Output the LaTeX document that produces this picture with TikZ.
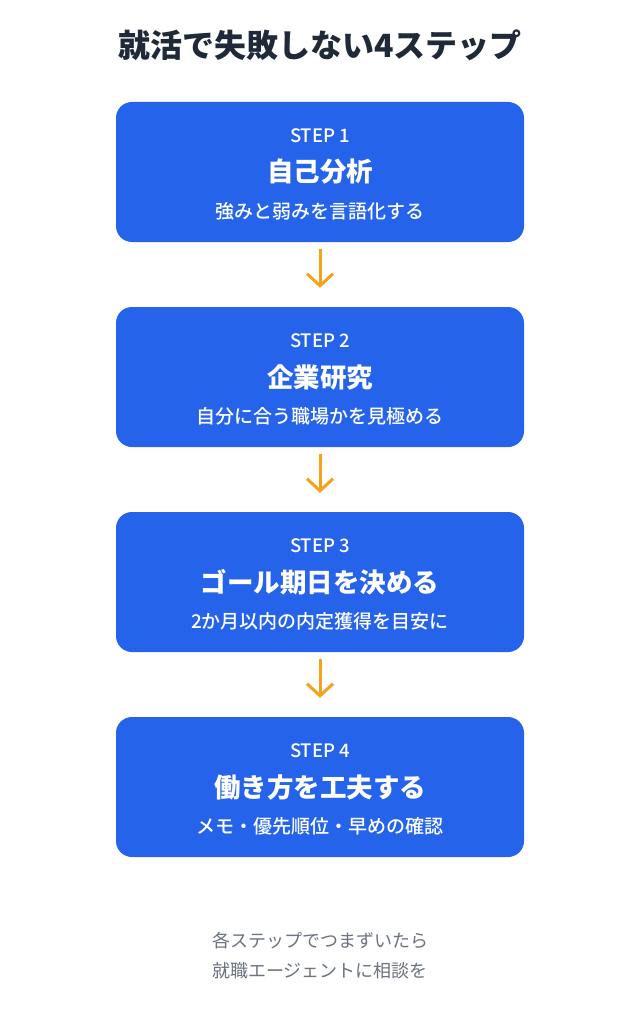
\documentclass[tikz,border=0pt]{standalone}
\usepackage{fontspec}
\setmainfont{Noto Sans CJK JP}
\newfontfamily\cjk{Noto Sans CJK JP}
\newfontfamily\cjkmed{Noto Sans CJK JP Medium}
\usetikzlibrary{arrows.meta}
\definecolor{boxblue}{RGB}{37,99,235}
\definecolor{arrorange}{RGB}{245,162,25}
\definecolor{titlegray}{RGB}{31,41,55}
\definecolor{footgray}{RGB}{107,114,128}
\tikzset{
  stepbox/.style={fill=boxblue, draw=none, rounded corners=16pt, minimum width=408pt, minimum height=140pt, inner sep=0pt},
  steplabel/.style={text=white, font=\cjkmed\fontsize{18.5}{20}\selectfont, inner sep=0pt},
  stephead/.style={text=white, font=\cjk\bfseries\fontsize{26.5}{30}\selectfont, inner sep=0pt},
  stepsub/.style={text=white, font=\cjkmed\fontsize{19}{22}\selectfont, inner sep=0pt},
  flowarrow/.style={draw=arrorange, line width=3pt, -{Straight Barb[length=12pt,width=26pt,line width=3pt]}},
  foot/.style={text=footgray, font=\cjk\fontsize{18}{22}\selectfont, inner sep=0pt}
}
\begin{document}
\begin{tikzpicture}[x=1pt,y=-1pt]
\useasboundingbox[fill=white] (0,0) rectangle (640,1024);
\node[text=titlegray, font=\cjk\bfseries\fontsize{32}{36}\selectfont, inner sep=0pt] (title) at (320,45) {就活で失敗しない4ステップ};

\node[stepbox] (b1) at (320,172) {};
\node[steplabel] (l1) at (320,136) {STEP 1};
\node[stephead] (h1) at (320,172) {自己分析};
\node[stepsub] (s1) at (320,211) {強みと弱みを言語化する};

\node[stepbox] (b2) at (320,377) {};
\node[steplabel] (l2) at (320,341) {STEP 2};
\node[stephead] (h2) at (320,377) {企業研究};
\node[stepsub] (s2) at (320,416) {自分に合う職場かを見極める};

\node[stepbox] (b3) at (320,582) {};
\node[steplabel] (l3) at (320,546) {STEP 3};
\node[stephead] (h3) at (320,582) {ゴール期日を決める};
\node[stepsub] (s3) at (320,621) {2か月以内の内定獲得を目安に};

\node[stepbox] (b4) at (320,787) {};
\node[steplabel] (l4) at (320,751) {STEP 4};
\node[stephead] (h4) at (320,787) {働き方を工夫する};
\node[stepsub] (s4) at (320,826) {メモ・優先順位・早めの確認};

\draw[flowarrow] ([yshift=-7pt]b1.south) -- ([yshift=19pt]b2.north);
\draw[flowarrow] ([yshift=-7pt]b2.south) -- ([yshift=19pt]b3.north);
\draw[flowarrow] ([yshift=-7pt]b3.south) -- ([yshift=19pt]b4.north);

\node[foot] (f1) at (320,941) {各ステップでつまずいたら};
\node[foot] (f2) at (320,971) {就職エージェントに相談を};
\end{tikzpicture}
\end{document}
